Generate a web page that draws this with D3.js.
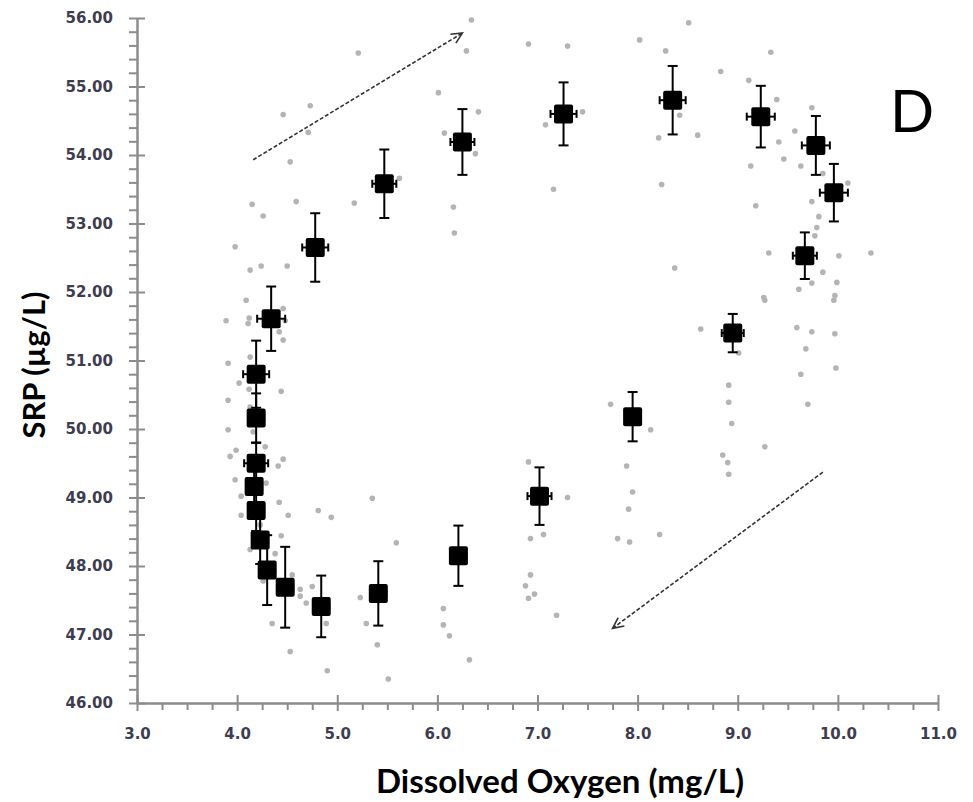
<!DOCTYPE html>
<html>
<head>
<meta charset="utf-8">
<script src="https://cdn.jsdelivr.net/npm/d3@7"></script>
<style>
  body { margin: 0; background: #fff; }
  svg { display: block; }
</style>
</head>
<body>
<svg width="973" height="802"></svg>
<script>
// mean values (with error bars)
const meanDO  = [4.34, 4.19, 4.19, 4.19, 4.17, 4.19, 4.23, 4.30, 4.48, 4.84, 5.41, 6.21, 7.02, 7.95, 8.95, 9.67, 9.96, 9.78, 9.23, 8.35, 7.26, 6.25, 5.47, 4.78];
const meanSRP = [51.61, 50.80, 50.16, 49.50, 49.16, 48.81, 48.38, 47.94, 47.69, 47.41, 47.60, 48.15, 49.02, 50.18, 51.40, 52.53, 53.45, 54.14, 54.56, 54.80, 54.60, 54.19, 53.58, 52.65];
const errDO   = [0.14, 0.13, 0.08, 0.12, 0.08, 0.08, 0.08, 0.08, 0.08, 0.08, 0.08, 0.08, 0.12, 0.05, 0.11, 0.12, 0.14, 0.14, 0.14, 0.13, 0.13, 0.12, 0.12, 0.13];
const errSRP  = [0.47, 0.49, 0.36, 0.30, 0.30, 0.30, 0.35, 0.51, 0.59, 0.45, 0.47, 0.44, 0.42, 0.36, 0.28, 0.34, 0.42, 0.43, 0.45, 0.50, 0.46, 0.48, 0.50, 0.50];

// individual observations (grey)
const obsDO = [4.46, 4.73, 4.71, 4.53, 4.15, 4.26, 4.59, 3.98,
  6.34, 6.29, 6.91, 7.30, 8.02, 8.28, 8.51, 6.01, 6.41, 6.07, 6.38, 7.08, 7.45, 7.16, 5.62, 8.21, 8.24, 8.60,
  9.33, 8.83, 9.11, 9.39, 9.74, 8.42, 9.57, 9.41, 9.46, 9.13, 9.63, 9.85, 10.10, 9.74, 9.18, 9.81, 9.79, 9.77,
  9.31, 10.01, 10.33, 9.85, 8.37, 9.74, 9.99, 9.61, 9.97, 9.26,
  9.27, 9.96, 8.63, 9.59, 9.74, 9.97, 9.68, 9.01, 9.63, 9.98, 9.70, 8.91, 8.91, 8.94, 9.27, 8.85, 8.90, 8.91,
  7.73, 8.13, 7.89, 7.95, 7.91, 7.80, 7.92, 8.22, 6.91, 7.30, 6.93, 7.06, 6.93, 6.88, 6.97, 6.91, 7.19,
  6.06, 6.06, 6.12, 6.32,
  3.93, 3.99, 4.46, 4.41, 3.98, 4.29, 4.04, 4.42, 4.51, 4.04, 4.44, 4.13, 4.38, 4.26, 4.23, 4.63, 4.63, 4.55,
  4.69, 4.75, 4.35, 4.53, 4.89, 4.81, 4.94, 5.35, 5.59, 5.23, 5.29, 5.40, 4.90, 5.51,
  4.24, 4.13, 4.50, 4.09, 3.89, 4.12, 4.11, 4.46, 4.48, 4.42, 4.46, 3.91, 4.13, 4.02, 4.12, 4.44, 3.91, 4.13,
  3.91, 4.16, 4.28,
  5.21, 6.16, 6.17, 5.17];
const obsSRP = [54.59, 54.72, 54.33, 53.90, 53.28, 53.11, 53.32, 52.66,
  55.97, 55.52, 55.62, 55.59, 55.68, 55.52, 55.93, 54.91, 54.63, 54.32, 54.02, 54.44, 54.63, 53.50, 53.66, 54.25, 53.57, 54.29,
  55.50, 55.22, 55.09, 54.81, 54.69, 54.58, 54.35, 54.19, 53.94, 53.84, 53.84, 53.73, 53.59, 53.32, 53.26, 53.10, 52.94, 52.82,
  52.57, 52.53, 52.57, 52.29, 52.35, 52.13, 52.14, 52.04, 51.95, 51.92,
  51.88, 51.88, 51.46, 51.48, 51.42, 51.39, 51.17, 51.11, 50.80, 50.89, 50.36, 50.64, 50.39, 50.08, 49.74, 49.62, 49.51, 49.34,
  50.36, 49.99, 49.46, 49.08, 48.83, 48.40, 48.35, 48.46, 49.52, 49.00, 48.40, 48.46, 47.87, 47.71, 47.59, 47.53, 47.28,
  47.38, 47.14, 46.98, 46.63,
  49.60, 49.69, 49.56, 49.46, 49.26, 49.21, 49.02, 48.93, 48.74, 48.74, 48.44, 48.24, 48.18, 47.78, 48.60, 47.66, 47.56, 47.87,
  47.46, 47.70, 47.16, 46.75, 47.16, 48.81, 48.71, 48.99, 48.34, 47.54, 47.16, 46.85, 46.47, 46.35,
  52.38, 52.32, 52.38, 51.88, 51.58, 51.62, 51.54, 51.76, 51.58, 51.42, 51.30, 50.96, 51.05, 50.67, 50.58, 50.55, 50.42, 50.32,
  49.99, 49.96, 49.74,
  55.49, 53.24, 52.86, 53.30];

// direction arrows [DO, SRP] start -> end
const arrowFrom = [[4.16, 53.93], [9.85, 49.37]];
const arrowTo   = [[6.25, 55.78], [7.75, 47.09]];

const xMajor = d3.range(3, 11.01, 1);
const xMinor = d3.range(3, 11.01, 0.25).filter(v => Math.abs(v - Math.round(v)) > 0.01);
const yMajor = d3.range(46, 56.01, 1);
const yMinor = d3.range(46, 56.01, 0.2).filter(v => Math.abs(v - Math.round(v)) > 0.01);

const SVG = d3.select('svg');
const AXIS_COLOR = '#8c8c8c';
const LABEL_COLOR = '#3d3d4f';

const X_SCALE = d3.scaleLinear().domain([3, 11]).range([137, 938]);
const Y_SCALE = d3.scaleLinear().domain([46, 56]).range([703, 18]);

// minor ticks
const xMinorG = SVG.append('g')
  .attr('transform', `translate(0,${Y_SCALE(46)})`)
  .call(d3.axisBottom(X_SCALE).tickValues(xMinor).tickSize(7).tickFormat(''));
const yMinorG = SVG.append('g')
  .attr('transform', `translate(${X_SCALE(3)},0)`)
  .call(d3.axisLeft(Y_SCALE).tickValues(yMinor).tickSize(8).tickFormat(''));
[xMinorG, yMinorG].forEach(g => {
  g.select('.domain').remove();
  g.selectAll('line').attr('stroke', AXIS_COLOR).attr('stroke-width', 2);
});

// major axes
const xAxisG = SVG.append('g')
  .attr('transform', `translate(0,${Y_SCALE(46)})`)
  .call(d3.axisBottom(X_SCALE).tickValues(xMajor).tickSizeInner(8).tickSizeOuter(0).tickPadding(17).tickFormat(d3.format('.1f')));
xAxisG.selectAll('.tick line').attr('y1', -8);

const yAxisG = SVG.append('g')
  .attr('transform', `translate(${X_SCALE(3)},0)`)
  .call(d3.axisLeft(Y_SCALE).tickValues(yMajor).tickSizeInner(8).tickSizeOuter(0).tickPadding(16).tickFormat(d3.format('.2f')));
yAxisG.selectAll('.tick line').attr('x1', 8);

[xAxisG, yAxisG].forEach(g => {
  g.select('.domain').attr('stroke', AXIS_COLOR).attr('stroke-width', 2.5);
  g.selectAll('.tick line').attr('stroke', AXIS_COLOR).attr('stroke-width', 2);
  g.selectAll('.tick text')
    .attr('fill', LABEL_COLOR)
    .style('font-family', 'DejaVu Sans, Verdana, sans-serif')
    .style('font-weight', 'bold')
    .style('font-size', '15px');
});

// axis titles
SVG.append('text')
  .attr('x', 560)
  .attr('y', 793)
  .attr('text-anchor', 'middle')
  .style('font-family', 'Lato, sans-serif')
  .style('font-weight', 'bold')
  .style('font-size', '33px')
  .text('Dissolved Oxygen (mg/L)');

SVG.append('text')
  .attr('transform', 'translate(45,365) rotate(-90)')
  .attr('text-anchor', 'middle')
  .style('font-family', 'Lato, sans-serif')
  .style('font-weight', 'bold')
  .style('font-size', '31px')
  .text('SRP (µg/L)');

// panel letter
SVG.append('text')
  .attr('x', 890)
  .attr('y', 132)
  .style('font-family', 'Lato, sans-serif')
  .style('font-size', '58px')
  .text('D');

// grey observations
SVG.append('g')
  .selectAll('circle')
  .data(d3.range(obsDO.length))
  .join('circle')
  .attr('cx', i => X_SCALE(obsDO[i]))
  .attr('cy', i => Y_SCALE(obsSRP[i]))
  .attr('r', 2.8)
  .attr('fill', '#b4b4b4');

// arrows
const ARROWS = SVG.append('g');
arrowFrom.forEach((from, i) => {
  const to = arrowTo[i];
  const x1 = X_SCALE(from[0]), y1 = Y_SCALE(from[1]);
  const x2 = X_SCALE(to[0]), y2 = Y_SCALE(to[1]);
  ARROWS.append('line')
    .attr('x1', x1).attr('y1', y1).attr('x2', x2).attr('y2', y2)
    .attr('stroke', '#333')
    .attr('stroke-width', 1.6)
    .attr('stroke-dasharray', '4,2');
  const ang = Math.atan2(y2 - y1, x2 - x1);
  const head = 12, spread = 0.45;
  const pts = [
    [x2 - head * Math.cos(ang - spread), y2 - head * Math.sin(ang - spread)],
    [x2, y2],
    [x2 - head * Math.cos(ang + spread), y2 - head * Math.sin(ang + spread)]
  ];
  ARROWS.append('path')
    .attr('d', d3.line()(pts))
    .attr('fill', 'none')
    .attr('stroke', '#333')
    .attr('stroke-width', 1.6);
});

// error bars + means
const MEANS = SVG.append('g');
meanDO.forEach((d, i) => {
  const cx = X_SCALE(d), cy = Y_SCALE(meanSRP[i]);
  const yTop = Y_SCALE(meanSRP[i] + errSRP[i]), yBot = Y_SCALE(meanSRP[i] - errSRP[i]);
  const xL = X_SCALE(d - errDO[i]), xR = X_SCALE(d + errDO[i]);
  const g = MEANS.append('g')
    .attr('stroke', '#000')
    .attr('stroke-width', 2);
  g.append('line').attr('x1', cx).attr('x2', cx).attr('y1', yTop).attr('y2', yBot);
  g.append('line').attr('x1', cx - 5).attr('x2', cx + 5).attr('y1', yTop).attr('y2', yTop);
  g.append('line').attr('x1', cx - 5).attr('x2', cx + 5).attr('y1', yBot).attr('y2', yBot);
  g.append('line').attr('x1', xL).attr('x2', xR).attr('y1', cy).attr('y2', cy);
  g.append('line').attr('x1', xL).attr('x2', xL).attr('y1', cy - 4).attr('y2', cy + 4);
  g.append('line').attr('x1', xR).attr('x2', xR).attr('y1', cy - 4).attr('y2', cy + 4);
});
MEANS.selectAll('rect')
  .data(d3.range(meanDO.length))
  .join('rect')
  .attr('x', i => X_SCALE(meanDO[i]) - 9.5)
  .attr('y', i => Y_SCALE(meanSRP[i]) - 9.5)
  .attr('width', 19)
  .attr('height', 19)
  .attr('rx', 2)
  .attr('fill', '#000');
</script>
</body>
</html>
